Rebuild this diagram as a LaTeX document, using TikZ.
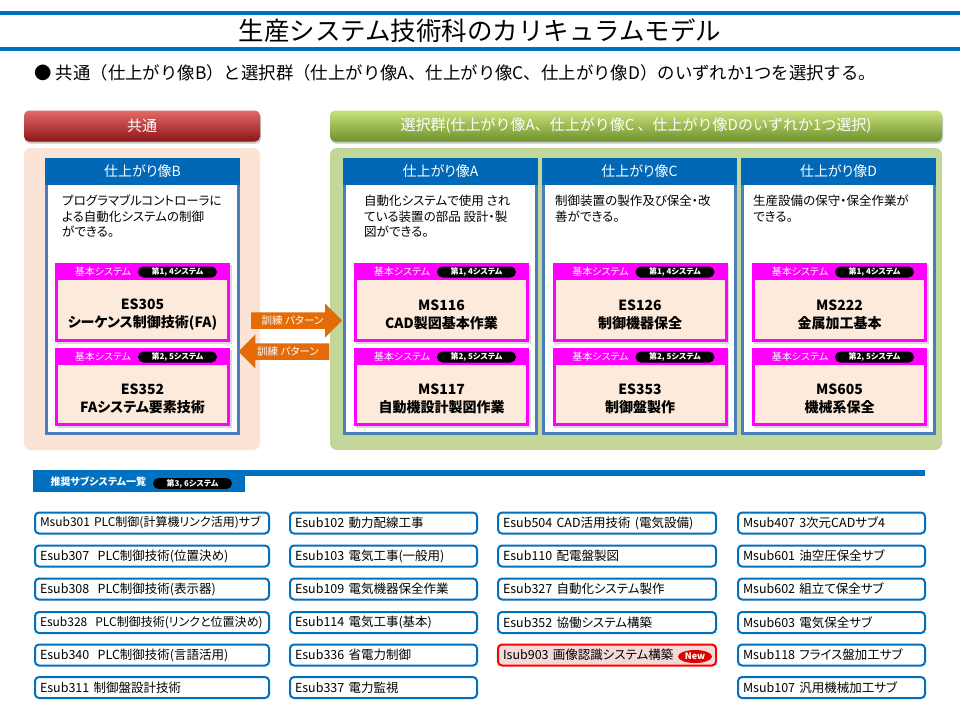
\documentclass[tikz,border=0pt]{standalone}
\usepackage{fontspec}
\setmainfont{Noto Sans CJK JP}[RawFeature=+palt]
\newfontfamily\fullw{Noto Sans CJK JP}
\usepackage{xcolor}
\usetikzlibrary{arrows.meta, positioning, calc, shapes.arrows, shapes.geometric, shadows}
\definecolor{hdrblue}{HTML}{0068B7}
\definecolor{frameblue}{HTML}{4A7EBB}
\definecolor{listblue}{HTML}{0070C0}
\definecolor{peach}{HTML}{FBE4D5}
\definecolor{kpeach}{HTML}{FDEADA}
\definecolor{kmagenta}{RGB}{255,0,255}
\definecolor{greenpanel}{HTML}{C4D79B}
\definecolor{greentop}{HTML}{C8E27C}
\definecolor{greenmid}{HTML}{9DC03F}
\definecolor{greenbot}{HTML}{6F902B}
\definecolor{redtop}{HTML}{E46A6A}
\definecolor{redmid}{HTML}{C22E2E}
\definecolor{redbot}{HTML}{8E1515}
\definecolor{arrowor}{HTML}{E36C09}
\definecolor{newred}{HTML}{E00000}
\definecolor{isubfill}{HTML}{F5D8D8}
\newcommand{\fs}[1]{\fontsize{#1}{#1}\selectfont}

\begin{document}
\begin{tikzpicture}[x=1pt, y=-1pt,
      groupbar/.style={rounded corners=5pt, minimum height=31pt, text=white, font=\fullw\fs{15},
        drop shadow={shadow xshift=1pt, shadow yshift=-2pt, fill=black!45}},
      panel/.style={rounded corners=7pt, minimum height=302pt},
      colframe/.style={draw=frameblue, line width=3pt, fill=white, minimum width=192pt, minimum height=274pt},
      colhead/.style={fill=hdrblue, minimum width=195pt, minimum height=27pt, text=white, font=\fs{14}},
      desc/.style={anchor=north west, align=left, inner sep=0pt, font=\fontsize{12.5}{15.5}\selectfont},
      kihonbox/.style={fill=kmagenta, minimum width=175pt, inner sep=0pt,
        drop shadow={shadow xshift=1.5pt, shadow yshift=-1.5pt, fill=black!30}},
      kihonbody/.style={fill=kpeach, minimum width=169pt},
      kihontext/.style={align=center, yshift=-5pt, font=\bfseries\fontsize{14}{18}\selectfont},
      kihontag/.style={text=white, inner sep=0pt, font=\fs{10}},
      pill/.style={fill=black, rounded corners=5.5pt, minimum width=79pt, minimum height=11pt, inner sep=0pt,
        text=white, font=\bfseries\fs{8}},
      trainarrow/.style={single arrow, fill=arrowor, minimum height=91pt, minimum width=34pt,
        single arrow head extend=8pt, single arrow head indent=0pt, inner sep=2.5pt, text=white, font=\fs{10.5}},
      listbox/.style={draw=listblue, line width=2pt, rounded corners=4pt, fill=white, minimum height=21pt,
        inner xsep=5pt, inner ysep=0pt, align=left, font=\fs{12.5}},
      wide/.style={text width=224pt},
      narrow/.style={text width=177pt},
      mid/.style={text width=208pt}
    ]
      \useasboundingbox (0,0) rectangle (960,720);
      \fill[white] (0,0) rectangle (960,720);

      % Title
      \fill[listblue] (0,11) rectangle (960,15);
      \fill[listblue] (0,47) rectangle (960,51);
      \node[font=\fullw\fs{25.5}] (title) at (480,31) {生産システム技術科のカリキュラムモデル};
      \node[anchor=west, font=\fullw\fs{17.4}] (lead) at (31,73)
        {● 共通（仕上がり像B）と選択群（仕上がり像A、仕上がり像C、仕上がり像D）のいずれか1つを選択する。};

      % Group headers and panels
      \node[groupbar, minimum width=236pt, top color=redtop, middle color=redmid, bottom color=redbot]
        (common) at (142,126) {共通};
      \node[groupbar, minimum width=612pt, top color=greentop, middle color=greenmid, bottom color=greenbot]
        (select) at (636,126) {選択群(仕上がり像A、仕上がり像C 、仕上がり像Dのいずれか1つ選択)};
      \node[panel, fill=peach, minimum width=236pt] (commonpanel) at (142,299) {};
      \node[panel, fill=greenpanel, minimum width=612pt] (selectpanel) at (636,299) {};

      % Column frames
      \node[colframe] (colB) at (142.5,296.5) {};
      \node[colframe] (colA) at (440.5,296.5) {};
      \node[colframe] (colC) at (639.5,296.5) {};
      \node[colframe] (colD) at (838.5,296.5) {};
      \node[colhead] (headB) at (142.5,171.5) {仕上がり像B};
      \node[colhead] (headA) at (440.5,171.5) {仕上がり像A};
      \node[colhead] (headC) at (639.5,171.5) {仕上がり像C};
      \node[colhead] (headD) at (838.5,171.5) {仕上がり像D};
      \node[desc] (descB) at (62,195) {プログラマブルコントローラに\\よる自動化システムの制御\\ができる。};
      \node[desc] (descA) at (364,195) {自動化システムで使用 され\\ている装置の部品 設計・製\\図ができる。};
      \node[desc] (descC) at (555,195) {制御装置の製作及び保全・改\\善ができる。};
      \node[desc] (descD) at (753,195) {生産設備の保守・保全作業が\\できる。};

      % Basic system boxes
      \node[kihonbox, minimum height=79pt] (kB1) at (142.5,302.5) {};
      \node[kihonbox, minimum height=78pt] (kB2) at (142.5,387) {};
      \node[kihonbox, minimum height=79pt] (kA1) at (441.5,302.5) {};
      \node[kihonbox, minimum height=78pt] (kA2) at (441.5,387) {};
      \node[kihonbox, minimum height=79pt] (kC1) at (640,302.5) {};
      \node[kihonbox, minimum height=78pt] (kC2) at (640,387) {};
      \node[kihonbox, minimum height=79pt] (kD1) at (839.5,302.5) {};
      \node[kihonbox, minimum height=78pt] (kD2) at (839.5,387) {};

      \node[kihonbody, minimum height=59pt, label={[kihontext]center:ES305\\シーケンス制御技術(FA)}] (bB1) at (142.5,309.5) {};
      \node[kihonbody, minimum height=58pt, label={[kihontext]center:ES352\\FAシステム要素技術}] (bB2) at (142.5,394) {};
      \node[kihonbody, minimum height=59pt, label={[kihontext]center:MS116\\CAD製図基本作業}] (bA1) at (441.5,309.5) {};
      \node[kihonbody, minimum height=58pt, label={[kihontext]center:MS117\\自動機設計製図作業}] (bA2) at (441.5,394) {};
      \node[kihonbody, minimum height=59pt, label={[kihontext]center:ES126\\制御機器保全}] (bC1) at (640,309.5) {};
      \node[kihonbody, minimum height=58pt, label={[kihontext]center:ES353\\制御盤製作}] (bC2) at (640,394) {};
      \node[kihonbody, minimum height=59pt, label={[kihontext]center:MS222\\金属加工基本}] (bD1) at (839.5,309.5) {};
      \node[kihonbody, minimum height=58pt, label={[kihontext]center:MS605\\機械系保全}] (bD2) at (839.5,394) {};

      \node[kihontag] (tB1) at (103,271.5) {基本システム};
      \node[kihontag] (tB2) at (103,356.5) {基本システム};
      \node[kihontag] (tA1) at (402,271.5) {基本システム};
      \node[kihontag] (tA2) at (402,356.5) {基本システム};
      \node[kihontag] (tC1) at (600.5,271.5) {基本システム};
      \node[kihontag] (tC2) at (600.5,356.5) {基本システム};
      \node[kihontag] (tD1) at (800,271.5) {基本システム};
      \node[kihontag] (tD2) at (800,356.5) {基本システム};

      \node[pill] (pB1) at (177.5,272) {第1, 4システム};
      \node[pill] (pB2) at (177.5,357) {第2, 5システム};
      \node[pill] (pA1) at (476.5,272) {第1, 4システム};
      \node[pill] (pA2) at (476.5,357) {第2, 5システム};
      \node[pill] (pC1) at (675,272) {第1, 4システム};
      \node[pill] (pC2) at (675,357) {第2, 5システム};
      \node[pill] (pD1) at (874.5,272) {第1, 4システム};
      \node[pill] (pD2) at (874.5,357) {第2, 5システム};

      % Training pattern arrows
      \node[trainarrow] (toselect) at (292.5,320.5) {訓練 パターン};
      \node[trainarrow, shape border rotate=180] (tocommon) at (288,351.5) {訓練 パターン};

      % Recommended subsystems
      \fill[listblue] (33,470) rectangle (925,476);
      \fill[listblue] (33,470) rectangle (245,492);
      \node[anchor=west, text=white, font=\bfseries\fs{10}] (subtitle) at (47,482) {推奨サブシステム一覧};
      \node[pill] (psub) at (192.5,483.5) {第3, 6システム};

      \node[listbox, wide, font=\fs{12}] (s1) at (152,523) {Msub301~PLC制御(計算機リンク活用)サブ};
      \node[listbox, wide] (s2) at (152,556) {Esub307~~PLC制御技術(位置決め)};
      \node[listbox, wide] (s3) at (152,589) {Esub308~~PLC制御技術(表示器)};
      \node[listbox, wide, font=\fs{12}] (s4) at (152,622.5) {Esub328~~PLC制御技術(リンクと位置決め)};
      \node[listbox, wide] (s5) at (152,655) {Esub340~~PLC制御技術(言語活用)};
      \node[listbox, wide] (s6) at (152,687.5) {Esub311~制御盤設計技術};

      \node[listbox, narrow] (e1) at (383.5,523) {Esub102~動力配線工事};
      \node[listbox, narrow] (e2) at (383.5,556) {Esub103~電気工事(一般用)};
      \node[listbox, narrow] (e3) at (383.5,589) {Esub109~電気機器保全作業};
      \node[listbox, narrow] (e4) at (383.5,622.5) {Esub114~電気工事(基本)};
      \node[listbox, narrow] (e5) at (383.5,655) {Esub336~省電力制御};
      \node[listbox, narrow] (e6) at (383.5,687.5) {Esub337~電力監視};

      \node[listbox, mid] (c1) at (607,523) {Esub504~CAD活用技術~(電気設備)};
      \node[listbox, mid] (c2) at (607,556) {Esub110~配電盤製図};
      \node[listbox, mid] (c3) at (607,589) {Esub327~自動化システム製作};
      \node[listbox, mid] (c4) at (607,622.5) {Esub352~協働システム構築};
      \node[listbox, mid, draw=red, fill=isubfill] (c5) at (607,655) {Isub903~画像認識システム構築};
      \node[ellipse, fill=newred, minimum width=34pt, minimum height=13pt, inner sep=0pt,
        text=white, font=\bfseries\fs{9}] (newtag) at (695,656.5) {New};

      \node[listbox, narrow] (m1) at (831.5,523) {Msub407~3次元CADサブ4};
      \node[listbox, narrow] (m2) at (831.5,556) {Msub601~油空圧保全サブ};
      \node[listbox, narrow] (m3) at (831.5,589) {Msub602~組立て保全サブ};
      \node[listbox, narrow] (m4) at (831.5,622.5) {Msub603~電気保全サブ};
      \node[listbox, narrow] (m5) at (831.5,655) {Msub118~フライス盤加工サブ};
      \node[listbox, narrow] (m6) at (831.5,687.5) {Msub107~汎用機械加工サブ};
    \end{tikzpicture}
\end{document}
